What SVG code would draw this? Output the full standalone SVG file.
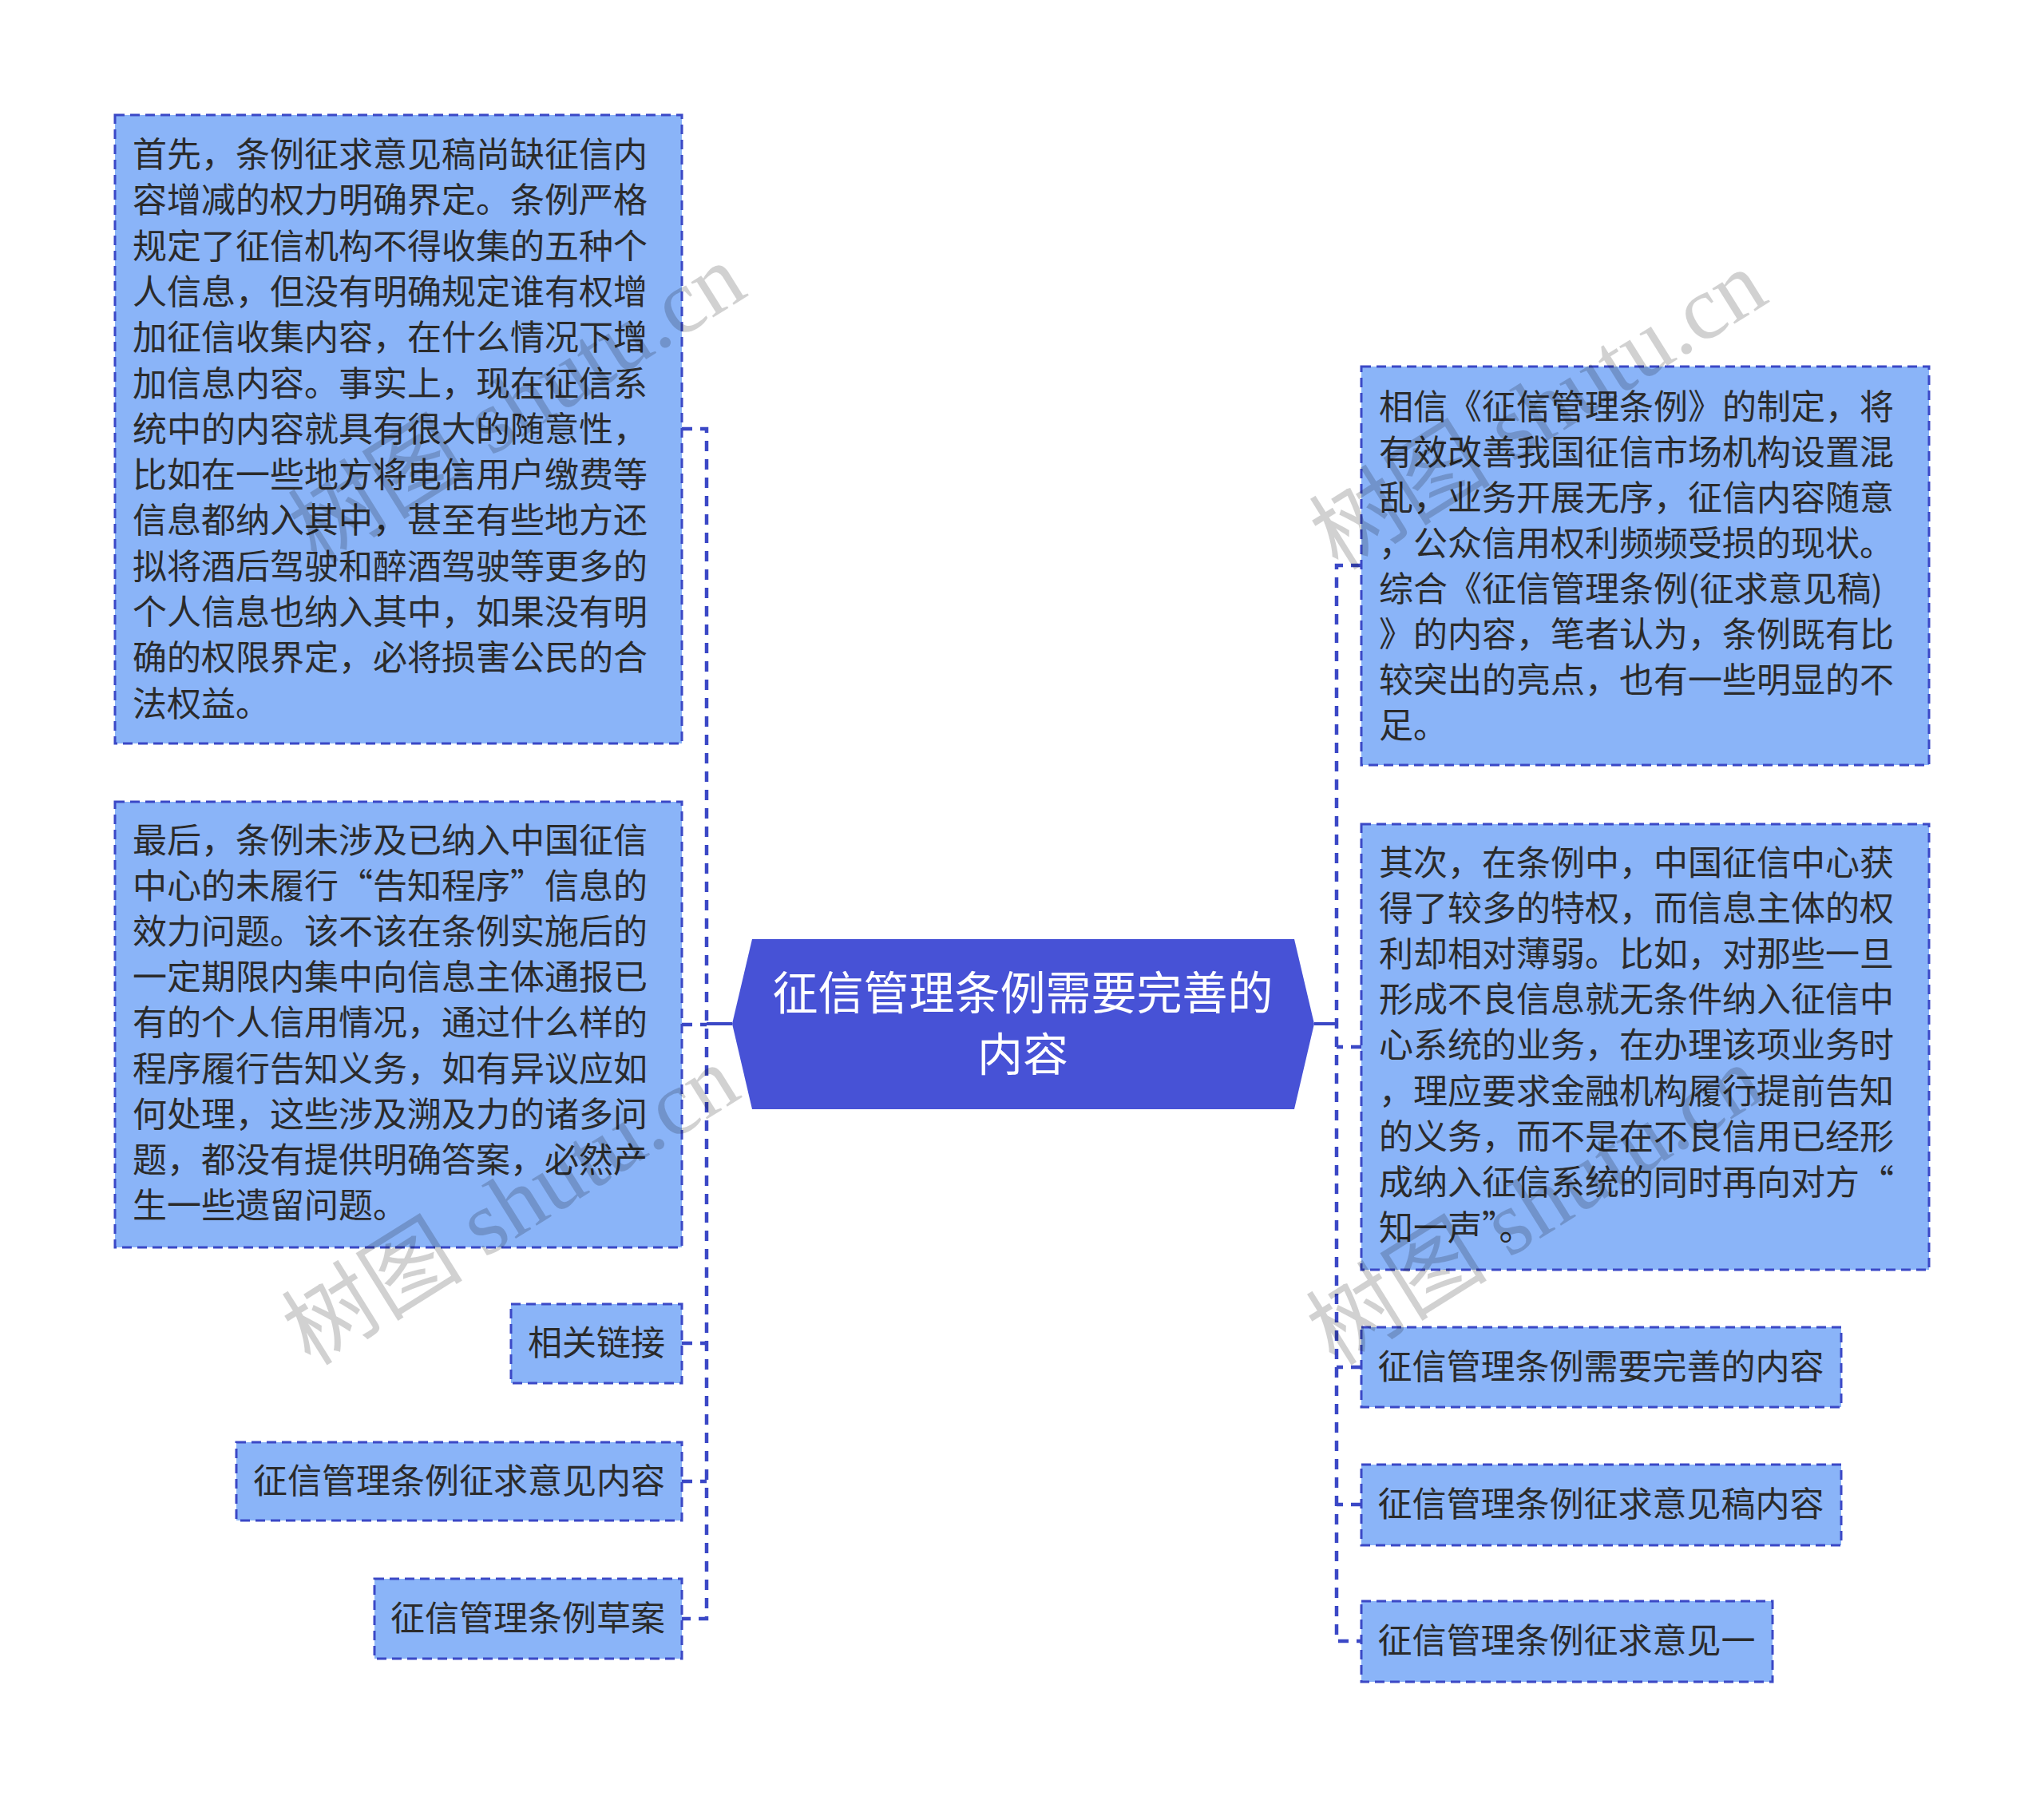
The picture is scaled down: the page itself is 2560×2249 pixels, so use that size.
<svg xmlns="http://www.w3.org/2000/svg" width="2560" height="2249" viewBox="0 0 2560 2249">
<style>
.box{fill:#8ab4f8;stroke:#3b48c6;stroke-width:3;stroke-dasharray:12 7;}
.t{font-family:"Noto Sans CJK SC","Noto Sans",sans-serif;font-size:43px;fill:#2b2b2b;}
.tc{font-family:"Noto Sans CJK SC","Noto Sans",sans-serif;font-size:43px;fill:#2b2b2b;text-anchor:middle;}
.root{fill:#4752d6;}
.rt{font-family:"Noto Sans CJK SC","Noto Sans",sans-serif;font-size:57px;fill:#ffffff;text-anchor:middle;}
.dash{fill:none;stroke:#3b48c6;stroke-width:4.5;stroke-dasharray:13 10;}
.solid{fill:none;stroke:#3b48c6;stroke-width:4;}
.wm{font-family:"Liberation Serif","Noto Sans CJK SC",serif;font-size:114px;fill:#000;fill-opacity:0.18;text-anchor:middle;}
</style>
<rect width="2560" height="2249" fill="#ffffff"/>
<g id="connectors">
<path class="dash" d="M854,537 H885 V2027 H854"/>
<path class="dash" d="M854,1283 H885"/>
<path class="dash" d="M854,1682 H885"/>
<path class="dash" d="M854,1855 H885"/>
<path class="solid" d="M885,1282 H917"/>
<path class="dash" d="M1705,708 H1674 V2055 H1705"/>
<path class="dash" d="M1705,1311 H1674"/>
<path class="dash" d="M1705,1712 H1674"/>
<path class="dash" d="M1705,1884 H1674"/>
<path class="solid" d="M1646,1282 H1674"/>
</g>
<g id="root">
<polygon class="root" points="942,1176 1621,1176 1646,1282 1621,1389 942,1389 917,1282"/>
<text class="rt" x="1281" y="1264">征信管理条例需要完善的</text>
<text class="rt" x="1281" y="1341">内容</text>
</g>
<g id="left1">
<rect class="box" x="144" y="144" width="710" height="787"/>
<text class="t" x="166" y="209">首先，条例征求意见稿尚缺征信内</text>
<text class="t" x="166" y="266">容增减的权力明确界定。条例严格</text>
<text class="t" x="166" y="324">规定了征信机构不得收集的五种个</text>
<text class="t" x="166" y="381">人信息，但没有明确规定谁有权增</text>
<text class="t" x="166" y="438">加征信收集内容，在什么情况下增</text>
<text class="t" x="166" y="496">加信息内容。事实上，现在征信系</text>
<text class="t" x="166" y="553">统中的内容就具有很大的随意性，</text>
<text class="t" x="166" y="610">比如在一些地方将电信用户缴费等</text>
<text class="t" x="166" y="667">信息都纳入其中，甚至有些地方还</text>
<text class="t" x="166" y="725">拟将酒后驾驶和醉酒驾驶等更多的</text>
<text class="t" x="166" y="782">个人信息也纳入其中，如果没有明</text>
<text class="t" x="166" y="839">确的权限界定，必将损害公民的合</text>
<text class="t" x="166" y="897">法权益。</text>
</g>
<g id="left2">
<rect class="box" x="144" y="1004" width="710" height="558"/>
<text class="t" x="166" y="1068">最后，条例未涉及已纳入中国征信</text>
<text class="t" x="166" y="1125">中心的未履行“告知程序”信息的</text>
<text class="t" x="166" y="1182">效力问题。该不该在条例实施后的</text>
<text class="t" x="166" y="1239">一定期限内集中向信息主体通报已</text>
<text class="t" x="166" y="1296">有的个人信用情况，通过什么样的</text>
<text class="t" x="166" y="1354">程序履行告知义务，如有异议应如</text>
<text class="t" x="166" y="1411">何处理，这些涉及溯及力的诸多问</text>
<text class="t" x="166" y="1468">题，都没有提供明确答案，必然产</text>
<text class="t" x="166" y="1525">生一些遗留问题。</text>
</g>
<g id="left3">
<rect class="box" x="640" y="1633" width="214" height="99"/>
<text class="tc" x="747" y="1697">相关链接</text>
</g>
<g id="left4">
<rect class="box" x="296" y="1806" width="558" height="98"/>
<text class="tc" x="575" y="1870">征信管理条例征求意见内容</text>
</g>
<g id="left5">
<rect class="box" x="469" y="1977" width="385" height="100"/>
<text class="tc" x="661" y="2042">征信管理条例草案</text>
</g>
<g id="right1">
<rect class="box" x="1705" y="459" width="711" height="499"/>
<text class="t" x="1727" y="525">相信《征信管理条例》的制定，将</text>
<text class="t" x="1727" y="582">有效改善我国征信市场机构设置混</text>
<text class="t" x="1727" y="639">乱，业务开展无序，征信内容随意</text>
<text class="t" x="1727" y="696">，公众信用权利频频受损的现状。</text>
<text class="t" x="1727" y="753">综合《征信管理条例(征求意见稿)</text>
<text class="t" x="1727" y="810">》的内容，笔者认为，条例既有比</text>
<text class="t" x="1727" y="867">较突出的亮点，也有一些明显的不</text>
<text class="t" x="1727" y="924">足。</text>
</g>
<g id="right2">
<rect class="box" x="1705" y="1032" width="711" height="558"/>
<text class="t" x="1727" y="1096">其次，在条例中，中国征信中心获</text>
<text class="t" x="1727" y="1153">得了较多的特权，而信息主体的权</text>
<text class="t" x="1727" y="1210">利却相对薄弱。比如，对那些一旦</text>
<text class="t" x="1727" y="1267">形成不良信息就无条件纳入征信中</text>
<text class="t" x="1727" y="1324">心系统的业务，在办理该项业务时</text>
<text class="t" x="1727" y="1382">，理应要求金融机构履行提前告知</text>
<text class="t" x="1727" y="1439">的义务，而不是在不良信用已经形</text>
<text class="t" x="1727" y="1496">成纳入征信系统的同时再向对方“</text>
<text class="t" x="1727" y="1553">知一声”。</text>
</g>
<g id="right3">
<rect class="box" x="1705" y="1662" width="601" height="100"/>
<text class="tc" x="2005" y="1727">征信管理条例需要完善的内容</text>
</g>
<g id="right4">
<rect class="box" x="1705" y="1834" width="601" height="101"/>
<text class="tc" x="2005" y="1899">征信管理条例征求意见稿内容</text>
</g>
<g id="right5">
<rect class="box" x="1705" y="2005" width="515" height="101"/>
<text class="tc" x="1962" y="2070">征信管理条例征求意见一</text>
</g>
<g id="watermarks">
<g transform="translate(648,506) rotate(-32)"><text class="wm" x="0" y="38">树图 shutu.cn</text></g>
<g transform="translate(1927,514) rotate(-32)"><text class="wm" x="0" y="38">树图 shutu.cn</text></g>
<g transform="translate(640,1510) rotate(-32)"><text class="wm" x="0" y="38">树图 shutu.cn</text></g>
<g transform="translate(1923,1510) rotate(-32)"><text class="wm" x="0" y="38">树图 shutu.cn</text></g>
</g>
</svg>
